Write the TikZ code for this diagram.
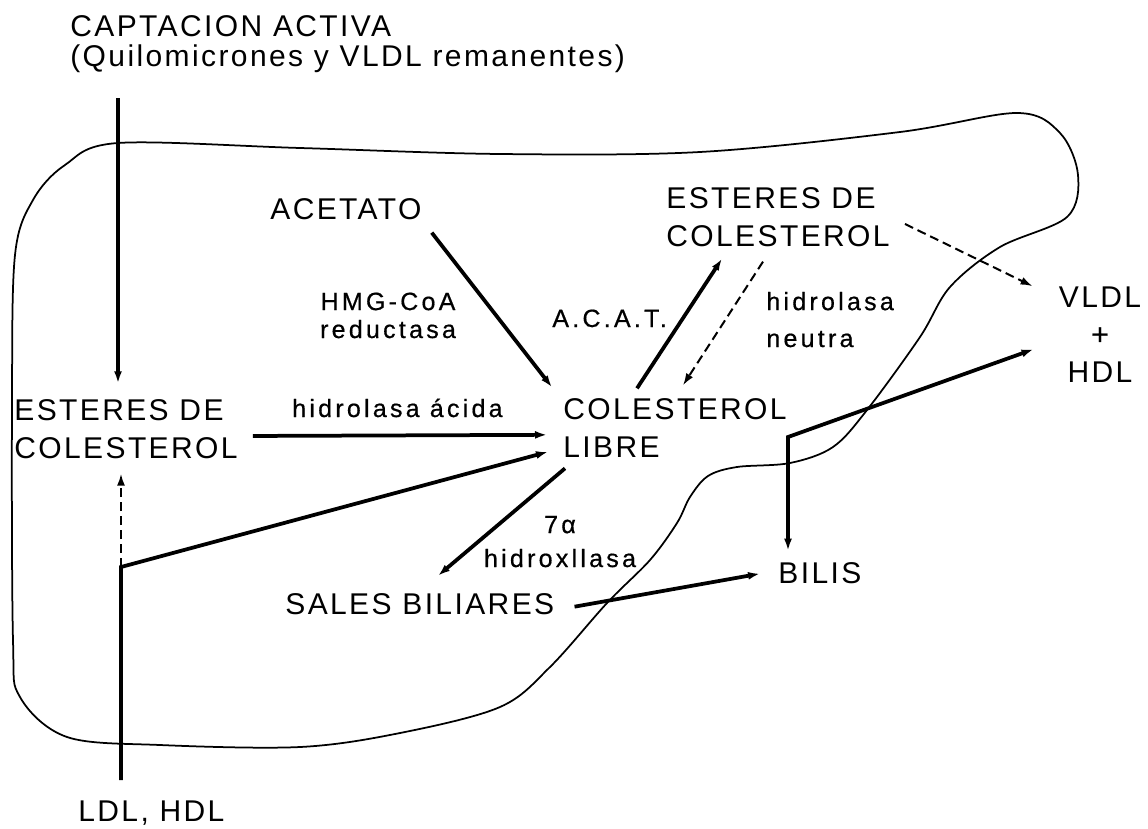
\documentclass[tikz,border=0pt]{standalone}
\usepackage{fontspec}
\usetikzlibrary{arrows.meta,calc}
\newfontfamily\bigfam[LetterSpace=8]{Liberation Sans}
\newfontfamily\smallfam[LetterSpace=13,FakeBold=0.6]{Liberation Sans}

\begin{document}
\begin{tikzpicture}[x=0.02cm,y=-0.02cm,
  big/.style={font=\bigfam\fontsize{17.07}{21.3}\selectfont, inner sep=0pt, align=left},
  small/.style={font=\smallfam\fontsize{14.23}{15.9}\selectfont, inner sep=0pt, align=center},
  flow/.style={line width=0.075cm, -{Latex[length=0.24cm,width=0.16cm]}},
  fork/.style={line width=0.075cm, line join=miter, {Latex[length=0.24cm,width=0.16cm]}-{Latex[length=0.24cm,width=0.16cm]}},
  back/.style={line width=0.04cm, dash pattern=on 0.18cm off 0.1cm, -{Latex[length=0.24cm,width=0.16cm]}},
  liver/.style={line width=0.035cm}]
\useasboundingbox (0,0) rectangle (1148,828);

\draw[liver] plot[smooth cycle, tension=0.55] coordinates {(118,143) (300,148) (500,154) (700,152) (900,132) (1017,113) (1060,133) (1078,175) (1067,217) (1000,247) (950,287) (920,337) (867,410) (833,447) (790,463) (737,467) (708,476) (690,497) (677,523) (650,560) (607,603) (550,667) (500,707) (400,733) (300,747) (160,745) (67,737) (20,697) (13,640) (12,400) (15,255) (33,200) (65,165)};

\node[big, anchor=base west, font=\bigfam\fontsize{17.07}{17.6}\selectfont] (capt) at (70,67) {CAPTACION ACTIVA\\(Quilomicrones y VLDL remanentes)};
\node[big, anchor=base west] (acetato) at (270,219) {ACETATO};
\node[big, anchor=base west] (esterR) at (666,246) {ESTERES DE\\COLESTEROL};
\node[big, anchor=base west] (esterL) at (14,458) {ESTERES DE\\COLESTEROL};
\node[big, anchor=base west] (colib) at (563,457) {COLESTEROL\\LIBRE};
\node[big, anchor=base, align=center] (vldl) at (1100,382) {VLDL\\{\smallfam +}\\HDL};
\node[big, anchor=base west] (sales) at (285,614) {SALES BILIARES};
\node[big, anchor=base west] (bilis) at (778,583) {BILIS};
\node[big, anchor=base west] (ldl) at (78,821) {LDL, HDL};

\node[small, anchor=base] (hmg) at (388,338) {HMG-CoA\\reductasa};
\node[small, anchor=base west] (acat) at (552,327) {A.C.A.T.};
\node[small, anchor=base west, align=left, font=\smallfam\fontsize{14.23}{21}\selectfont] (neutra) at (766,347) {hidrolasa\\neutra};
\node[small, anchor=base east] (acida) at (503,417) {hidrolasa ácida};
\node[small, anchor=base, font=\smallfam\fontsize{14.23}{19.3}\selectfont] (hidrox) at (560,567) {7α\\hidroxllasa};

\coordinate (inflow) at (118,98);
\coordinate (ldlfork) at (121,567);
\coordinate (bilefork) at (788,437);

\draw[flow] (inflow) -- ($(inflow |- esterL.north)+(0,-16)$);
\draw[flow] ($(esterL.east)+(15,7)$) -- ($(colib.west)+(-16,7)$);
\draw[flow] ($(acetato.south east)+(10,13)$) -- ($(colib.north west)+(-11,-11)$);
\draw[flow] ($(colib.north west)+(74,-10)$) -- ($(esterR.south west)+(56,12)$);
\draw[back] ($(esterR.south west)+(97,15)$) -- ($(colib.north west)+(120,-13)$);
\draw[back] ($(esterR.east)+(15,7)$) -- ($(vldl.north west)+(-26,0)$);
\draw[flow] ($(colib.south west)+(2,11)$) -- ($(sales.north west)+(153,-17)$);
\draw[flow, line join=miter] ($(ldl.north west)+(43,-20)$) -- (ldlfork) -- ($(colib.west)+(-15,24)$);
\draw[back] (ldlfork) -- ($(ldlfork |- esterL.south)+(0,15)$);
\draw[flow] ($(sales.east)+(20,3)$) -- ($(bilis.west)+(-18,1)$);
\draw[fork] ($(bilefork |- bilis.north)+(0,-11)$) -- (bilefork) -- ($(vldl.west)+(-25,15)$);

\end{tikzpicture}
\end{document}
